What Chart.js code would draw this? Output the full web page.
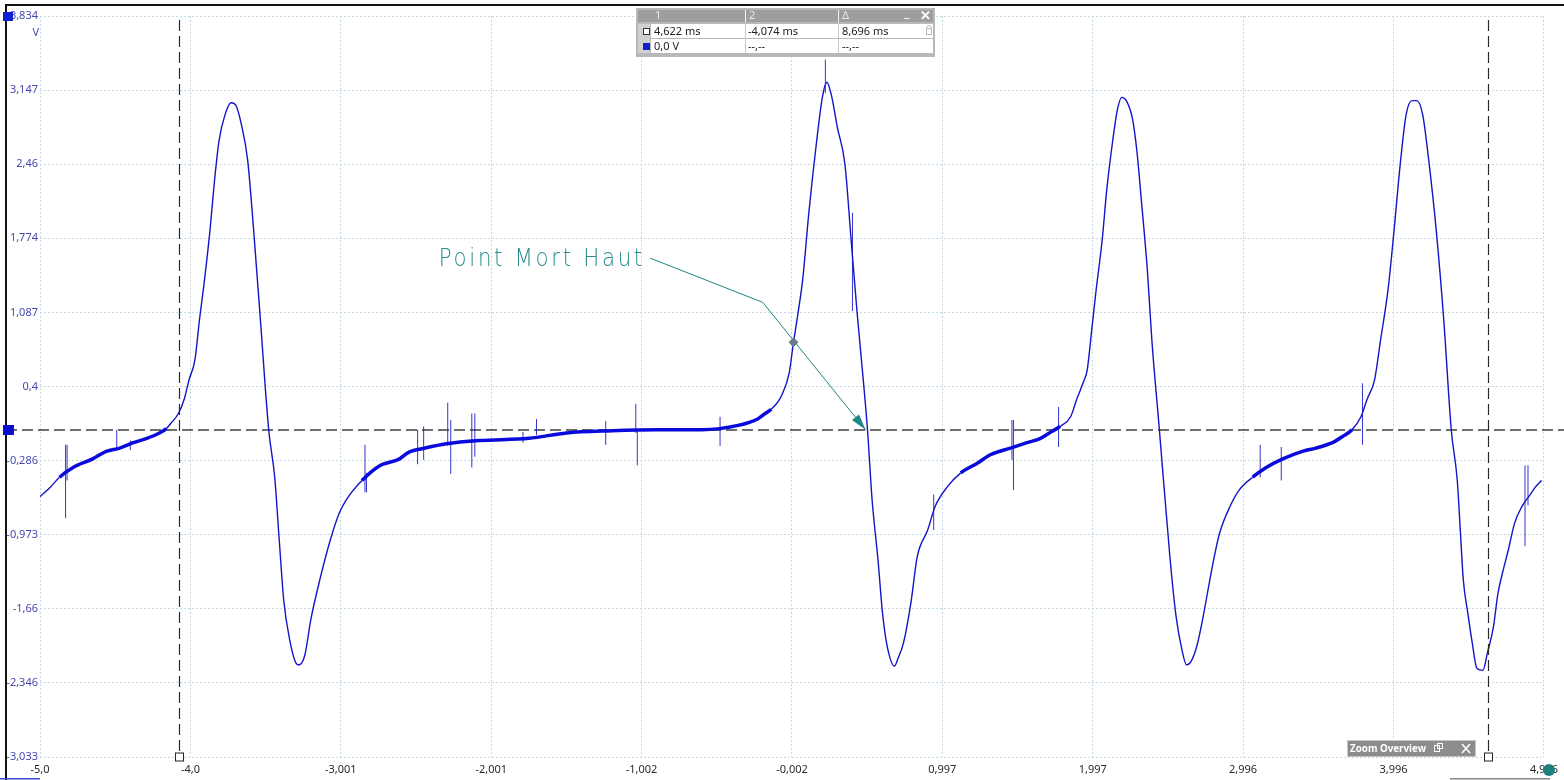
<!DOCTYPE html>
<html><head><meta charset="utf-8">
<script src="https://cdn.jsdelivr.net/npm/chart.js@4/dist/chart.umd.min.js"></script>
<style>html,body{margin:0;padding:0;background:#fff;overflow:hidden}#wrap{width:1564px;height:780px;position:relative}</style>
</head><body><div id="wrap"><canvas id="c" width="1564" height="780"></canvas></div>
<script>
// ---- data (ms, V) ----
const timeMs = [-5.00,-4.93,-4.87,-4.78,-4.65,-4.56,-4.47,-4.38,-4.29,-4.22,-4.16,-4.13,-4.08,-4.04,-4.01,-3.97,-3.94,-3.91,-3.87,-3.84,-3.81,-3.77,-3.73,-3.70,-3.66,-3.62,-3.58,-3.53,-3.48,-3.44,-3.41,-3.38,-3.34,-3.30,-3.28,-3.24,-3.20,-3.14,-3.07,-3.01,-2.95,-2.86,-2.75,-2.61,-2.55,-2.44,-2.30,-2.08,-1.75,-1.50,-1.20,-0.90,-0.60,-0.36,-0.23,-0.18,-0.14,-0.10,-0.07,-0.02,0.008,0.036,0.07,0.11,0.16,0.20,0.23,0.26,0.30,0.35,0.39,0.43,0.47,0.50,0.53,0.57,0.60,0.63,0.68,0.70,0.74,0.79,0.83,0.90,0.95,1.03,1.12,1.23,1.32,1.45,1.56,1.65,1.72,1.78,1.85,1.89,1.94,1.96,1.99,2.02,2.06,2.09,2.13,2.16,2.19,2.22,2.26,2.29,2.32,2.36,2.39,2.44,2.51,2.55,2.59,2.62,2.65,2.69,2.72,2.80,2.84,2.91,2.97,3.06,3.15,3.26,3.39,3.48,3.59,3.66,3.72,3.78,3.82,3.87,3.91,3.96,4.00,4.04,4.08,4.12,4.15,4.19,4.23,4.28,4.33,4.38,4.42,4.44,4.46,4.49,4.52,4.55,4.59,4.62,4.66,4.69,4.72,4.76,4.80,4.85,4.90,4.94,4.98];
const voltage = [-0.62,-0.53,-0.44,-0.35,-0.27,-0.20,-0.17,-0.12,-0.08,-0.04,0.01,0.06,0.15,0.29,0.46,0.65,1.02,1.35,1.85,2.31,2.68,2.92,3.03,3.01,2.82,2.50,1.85,0.92,0.00,-0.44,-1.02,-1.58,-1.95,-2.16,-2.18,-2.09,-1.76,-1.39,-1.02,-0.77,-0.62,-0.47,-0.34,-0.27,-0.21,-0.17,-0.13,-0.10,-0.08,-0.03,-0.01,0.00,0.00,0.04,0.10,0.15,0.19,0.25,0.32,0.53,0.81,1.06,1.40,2.01,2.65,3.08,3.22,3.10,2.80,2.46,1.78,1.10,0.49,0.00,-0.64,-1.21,-1.70,-2.00,-2.19,-2.13,-1.97,-1.59,-1.18,-0.93,-0.71,-0.53,-0.40,-0.31,-0.23,-0.17,-0.12,-0.08,-0.02,0.03,0.12,0.28,0.46,0.55,0.92,1.30,1.76,2.22,2.68,2.96,3.08,3.05,2.89,2.59,2.13,1.48,0.83,0.00,-1.18,-1.72,-2.04,-2.18,-2.15,-2.00,-1.81,-1.21,-0.96,-0.71,-0.56,-0.44,-0.35,-0.27,-0.20,-0.17,-0.12,-0.06,0.00,0.12,0.28,0.46,0.83,1.30,1.85,2.45,2.92,3.05,3.05,2.92,2.50,1.85,1.02,0.00,-0.47,-0.93,-1.39,-1.70,-1.98,-2.21,-2.23,-2.07,-1.83,-1.52,-1.33,-1.11,-0.87,-0.71,-0.61,-0.53,-0.47];
// glitch spikes (time, low V, high V)
const spikeTime = [-4.83,-4.82,-4.49,-4.40,-2.84,-2.83,-2.49,-2.45,-2.29,-2.27,-2.13,-2.11,-1.79,-1.70,-1.24,-1.04,-1.03,-0.48,0.22,0.40,0.94,1.46,1.47,1.77,3.11,3.25,3.79,4.87,4.89];
const spikeLow  = [-0.82,-0.47,-0.17,-0.19,-0.58,-0.58,-0.32,-0.28,-0.15,-0.41,-0.35,-0.25,-0.12,-0.05,-0.14,-0.03,-0.33,-0.15,3.12,1.10,-0.93,-0.28,-0.56,-0.16,-0.44,-0.47,-0.14,-1.08,-0.70];
const spikeHigh = [-0.14,-0.14,0.00,-0.10,-0.14,-0.40,0.00,0.03,0.25,0.09,0.15,0.15,-0.02,0.10,0.08,0.24,0.00,0.12,3.43,2.01,-0.60,0.09,0.09,0.21,-0.14,-0.16,0.43,-0.33,-0.33];
const xTickValues = [-5.0,-4.0,-3.001,-2.001,-1.002,-0.002,0.997,1.997,2.996,3.996,4.996];
const xTickLabels = ['-5,0','-4,0','-3,001','-2,001','-1,002','-0,002','0,997','1,997','2,996','3,996','4,996'];
const yTickValues = [3.834,3.147,2.46,1.774,1.087,0.4,-0.286,-0.973,-1.66,-2.346,-3.033];
const yTickLabels = ['3,834','3,147','2,46','1,774','1,087','0,4','-0,286','-0,973','-1,66','-2,346','-3,033'];
const cursorTimes = [-4.074, 4.622];
const tableHeader = ['1','2','Δ'];
const tableRow1 = ['4,622 ms','-4,074 ms','8,696 ms'];
const tableRow2 = ['0,0 V','--,--','--,--'];
const annotationText = 'Point Mort Haut';
const annotationAnchor = [-2.349, 1.517];
const annotationPath = [[-0.944,1.59],[-0.196,1.18],[0.487,0]];
const markerPoint = [0.008, 0.81];

const mainData = timeMs.map((t,i)=>({x:t,y:voltage[i]}));
const spikeData = [];
spikeTime.forEach((t,i)=>{spikeData.push({x:t,y:spikeLow[i]},{x:t,y:spikeHigh[i]},{x:t,y:null});});

const UI = '"Noto Sans", "Open Sans", sans-serif';

function isFlat(c){
  const dx=Math.abs(c.p1.x-c.p0.x), dy=Math.abs(c.p1.y-c.p0.y);
  return dy/Math.max(dx,0.1)<0.9 && Math.abs(c.p0.parsed.y)<0.8 && Math.abs(c.p1.parsed.y)<0.8;
}

const overlay = {
  id:'overlay',
  beforeDraw(chart){
    const ctx=chart.ctx; ctx.save(); ctx.fillStyle='#fff'; ctx.fillRect(0,0,chart.width,chart.height); ctx.restore();
  },
  beforeDatasetsDraw(chart){
    const ctx=chart.ctx, ys=chart.scales.y;
    ctx.save();
    const y0=Math.round(ys.getPixelForValue(0));
    ctx.strokeStyle='#6e6e6e'; ctx.lineWidth=2; ctx.setLineDash([11,5]);
    ctx.beginPath(); ctx.moveTo(6,y0); ctx.lineTo(1564,y0); ctx.stroke();
    ctx.restore();
  },
  afterDraw(chart){
    const ctx=chart.ctx, xs=chart.scales.x, ys=chart.scales.y, a=chart.chartArea;
    ctx.save();
    // cursors
    cursorTimes.forEach(t=>{
      const px=Math.round(xs.getPixelForValue(t))+0.5;
      ctx.strokeStyle='#2a2a2a'; ctx.lineWidth=1.2; ctx.setLineDash([11,5]);
      ctx.beginPath(); ctx.moveTo(px,20); ctx.lineTo(px,a.bottom-4); ctx.stroke();
      ctx.setLineDash([]);
      ctx.fillStyle='#fff'; ctx.fillRect(px-4,a.bottom-4,8,8);
      ctx.strokeStyle='#222'; ctx.lineWidth=1; ctx.strokeRect(px-4,a.bottom-4,8,8);
    });
    // frame
    ctx.fillStyle='#111'; ctx.fillRect(5,4,1559,2); ctx.fillRect(5,4,2,776);
    // left markers
    const y0=Math.round(ys.getPixelForValue(0));
    ctx.fillStyle='#0c0cd0'; ctx.fillRect(3,y0-5,11,10);
    ctx.fillStyle='#1020d0'; ctx.fillRect(3,12,10,9);
    ctx.fillStyle='#4848b0'; ctx.font='11px '+UI; ctx.textAlign='right'; ctx.textBaseline='middle';
    ctx.fillText('V',39,33);
    // bottom small lines
    ctx.fillStyle='#3a4ad0'; ctx.fillRect(0,778,40,1.5);
    ctx.fillStyle='#888'; ctx.fillRect(1450,778,100,1.5);
    // table
    const tx=636, ty=8, tw=299, th=49;
    ctx.fillStyle='#b8b8b8'; ctx.fillRect(tx,ty,tw,th);
    ctx.fillStyle='#9e9e9e'; ctx.fillRect(tx+2,ty+2,tw-4,12);
    ctx.fillStyle='#fff'; ctx.fillRect(tx+15,ty+16,tw-17,14); ctx.fillRect(tx+15,ty+31,tw-17,14);
    ctx.fillStyle='#d0d0d0'; ctx.fillRect(tx+2,ty+16,12,29);
    ctx.fillStyle='#c8c8c8'; ctx.fillRect(745,ty+2,1,43); ctx.fillRect(838,ty+2,1,43);
    ctx.fillStyle='#f0f0f0'; ctx.fillRect(745,ty+2,1,12); ctx.fillRect(838,ty+2,1,12);
    ctx.textAlign='left'; ctx.textBaseline='middle';
    ctx.font='11px '+UI; ctx.fillStyle='#e8e8e8';
    ctx.fillText(tableHeader[0],655,ty+8); ctx.fillText(tableHeader[1],749,ty+8); ctx.fillText(tableHeader[2],842,ty+8);
    ctx.font='bold 13px '+UI; ctx.fillStyle='#fff'; ctx.fillText('_',904,ty+5); ctx.fillText('✕',920,ty+8);
    ctx.font='11px '+UI; ctx.fillStyle='#222';
    const cx=[654,748,842];
    tableRow1.forEach((s,i)=>ctx.fillText(s,cx[i],ty+24));
    tableRow2.forEach((s,i)=>ctx.fillText(s,cx[i],ty+39));
    ctx.fillStyle='#fff'; ctx.fillRect(643,ty+20,7,7); ctx.strokeStyle='#333'; ctx.lineWidth=1; ctx.strokeRect(643.5,ty+20.5,6,6);
    ctx.fillStyle='#1020c8'; ctx.fillRect(643,ty+35,7,7);
    ctx.strokeStyle='#bbb'; ctx.strokeRect(926.5,ty+20.5,5,6); ctx.beginPath(); ctx.arc(929,ty+20,2.5,Math.PI,0); ctx.stroke();
    // zoom overview box
    ctx.fillStyle='#8c8c8c'; ctx.fillRect(1347,740,129,17);
    ctx.strokeStyle='#c8c8c8'; ctx.strokeRect(1347.5,740.5,128,16);
    ctx.fillStyle='#fff'; ctx.font='bold 11px '+UI; ctx.textBaseline='middle'; ctx.fillText('Zoom Overview',1350,749,76);
    ctx.strokeStyle='#fff'; ctx.lineWidth=1;
    ctx.strokeRect(1434.5,745.5,5,6); ctx.strokeRect(1437.5,743.5,5,5);
    ctx.lineWidth=1.6; ctx.beginPath(); ctx.moveTo(1462,744); ctx.lineTo(1470,753); ctx.moveTo(1470,744); ctx.lineTo(1462,753); ctx.stroke();
    // teal dot
    ctx.fillStyle='#1d7f80'; ctx.beginPath(); ctx.arc(1549,770,6,0,Math.PI*2); ctx.fill();
    // annotation
    const pts=annotationPath.map(p=>[xs.getPixelForValue(p[0]),ys.getPixelForValue(p[1])]);
    ctx.strokeStyle='#1f8585'; ctx.lineWidth=1; ctx.beginPath();
    ctx.moveTo(pts[0][0],pts[0][1]); for(let i=1;i<pts.length;i++) ctx.lineTo(pts[i][0],pts[i][1]); ctx.stroke();
    const [ex,ey]=pts[pts.length-1], [sx,sy]=pts[pts.length-2];
    const ang=Math.atan2(ey-sy,ex-sx), L=16, W=4.5;
    ctx.fillStyle='#1f8585'; ctx.beginPath(); ctx.moveTo(ex,ey);
    ctx.lineTo(ex-L*Math.cos(ang)+W*Math.sin(ang), ey-L*Math.sin(ang)-W*Math.cos(ang));
    ctx.lineTo(ex-L*Math.cos(ang)-W*Math.sin(ang), ey-L*Math.sin(ang)+W*Math.cos(ang)); ctx.closePath(); ctx.fill();
    const mx=xs.getPixelForValue(markerPoint[0]), my=ys.getPixelForValue(markerPoint[1]);
    ctx.fillStyle='#6b7a8c'; ctx.beginPath(); ctx.moveTo(mx,my-5); ctx.lineTo(mx+5,my); ctx.lineTo(mx,my+5); ctx.lineTo(mx-5,my); ctx.closePath(); ctx.fill();
    const ax=xs.getPixelForValue(annotationAnchor[0]), ay=ys.getPixelForValue(annotationAnchor[1]);
    ctx.fillStyle='#2a8c8c'; ctx.textAlign='left'; ctx.textBaseline='alphabetic';
    ctx.font='200 24px "DejaVu Sans ExtraLight", "DejaVu Sans", sans-serif';
    try{ctx.letterSpacing='3px';}catch(e){}
    ctx.fillText(annotationText,ax,ay,206);
    ctx.restore();
  }
};

new Chart(document.getElementById('c'),{
  type:'line',
  data:{datasets:[
    {data:mainData, borderColor:'#1414c8', borderWidth:1.4, pointRadius:0, cubicInterpolationMode:'monotone', fill:false,
     segment:{borderWidth:c=>isFlat(c)?3.5:1.4, borderColor:c=>isFlat(c)?'#0a0adc':'#1414c8'}},
    {data:spikeData, borderColor:'rgba(30,30,200,0.9)', borderWidth:1, pointRadius:0, tension:0, spanGaps:false, fill:false}
  ]},
  options:{
    responsive:false, animation:false, devicePixelRatio:1, parsing:false,
    layout:{padding:{left:0,top:16,right:16,bottom:0}},
    plugins:{legend:{display:false},tooltip:{enabled:false}},
    scales:{
      x:{type:'linear', min:-5.0, max:4.996,
         afterBuildTicks:s=>{s.ticks=xTickValues.map(v=>({value:v}));},
         afterFit:s=>{s.height=23;},
         ticks:{autoSkip:false, maxRotation:0, padding:6, color:'#2a2a2a', font:{family:UI,size:11},
                callback:(v,i)=>xTickLabels[i]},
         grid:{color:'#c3d9e6', lineWidth:1, drawTicks:false},
         border:{display:false, dash:[2,2]}},
      y:{type:'linear', min:-3.033, max:3.834,
         afterBuildTicks:s=>{s.ticks=yTickValues.map(v=>({value:v}));},
         afterFit:s=>{s.width=40;},
         ticks:{autoSkip:false, padding:2, color:'#4848b0', font:{family:UI,size:11},
                callback:(v,i)=>yTickLabels[i]},
         grid:{color:'#c3d9e6', lineWidth:1, drawTicks:false},
         border:{display:false, dash:[2,2]}}
    }
  },
  plugins:[overlay]
});
</script></body></html>
